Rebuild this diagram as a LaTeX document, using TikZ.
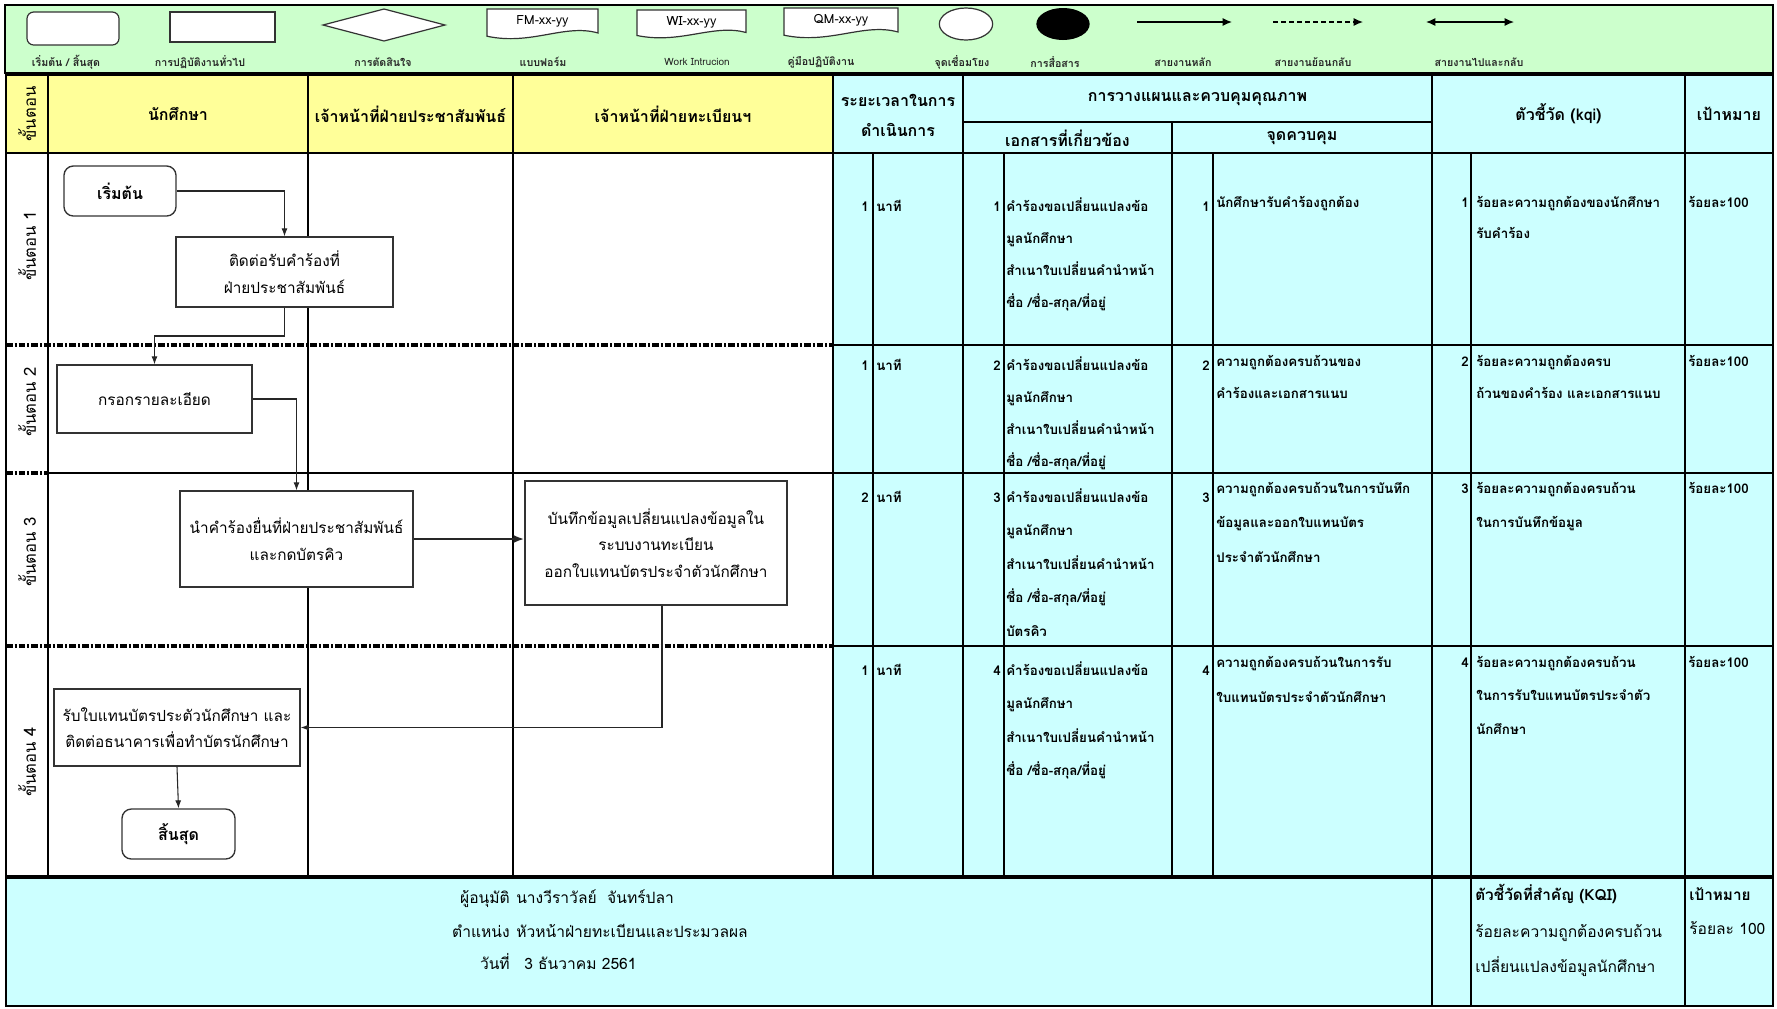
\documentclass[tikz,border=0pt]{standalone}
\usepackage{fontspec}
\setmainfont[Script=Thai]{Loma}
\usetikzlibrary{arrows.meta}
\definecolor{lg}{HTML}{CCFFCC}
\definecolor{ly}{HTML}{FFFF99}
\definecolor{lc}{HTML}{CCFFFF}
\newcommand\myfs[2]{\fontsize{#1}{#2}\selectfont}
\newcommand\celllines[4]{\foreach \t [count=\i from 0] in {#4} {\node[celltxt] at (#1,{#2+\i*#3}) {\t};}}
\tikzset{
 celltxt/.style={anchor=base west, inner sep=0pt, font=\myfs{10}{12}\bfseries},
 cellnum/.style={anchor=base east, inner sep=0pt, font=\myfs{10}{12}\bfseries},
 hdr/.style={font=\myfs{12}{14}\bfseries, inner sep=0pt},
 steptxt/.style={font=\myfs{12.5}{14}, inner sep=0pt, rotate=90},
 legtxt/.style={font=\myfs{8}{9}\bfseries, inner sep=0pt, text=black!85},
 foot/.style={font=\myfs{11.7}{13}, inner sep=0pt},
 box/.style 2 args={draw=black!80, line width=1pt, fill=white, minimum width=#1*0.75pt, minimum height=#2*0.75pt, inner sep=0pt, align=center, font=\myfs{11.5}{20}},
 term/.style 2 args={box={#1}{#2}, rounded corners=7pt, font=\myfs{12}{14}\bfseries},
 flow/.style={draw=black!85, line width=0.8pt, -{Latex[length=6pt,width=4.5pt]}},
 lane/.style={line width=1.5pt},
 grid/.style={line width=1.1pt},
 dd/.style={line width=2.3pt, dash pattern=on 5pt off 1.5pt on 1.5pt off 1.5pt},
 legshape/.style={draw=black!80, line width=0.9pt, fill=white},
}
\newcommand\docshape[5]{%
 \draw[legshape] (#1,#3) -- (#2,#3) -- (#2,{#3+0.75*(#4-#3)})
   .. controls ({#2-0.3*(#2-#1)},{#3+0.45*(#4-#3)}) and ({#1+0.4*(#2-#1)},{#3+1.15*(#4-#3)}) .. (#1,{#3+0.85*(#4-#3)}) -- cycle;
 \node[font=\myfs{9.5}{11}, inner sep=0pt] at ({(#1+#2)/2},{#3+12}) {#5};}
\begin{document}
\begin{tikzpicture}[x=0.75pt,y=-0.75pt]
\useasboundingbox (0,0) rectangle (1777,1008);
\fill[white] (0,0) rectangle (1777,1008);
% ---------------- legend
\fill[lg] (5,5) rectangle (1773,73);
\draw[line width=1.6pt] (5,5) rectangle (1773,73);
\draw[legshape, rounded corners=5pt] (27,12) rectangle (119,45);
\draw[legshape] (170,12) rectangle (275,42);
\draw[legshape] (323,25) -- (384,9) -- (445,25) -- (384,41) -- cycle;
\docshape{487}{598}{9}{41}{FM-xx-yy}
\docshape{637}{746}{10}{40}{WI-xx-yy}
\docshape{784}{898}{8}{40}{QM-xx-yy}
\draw[legshape] (966,24) ellipse [x radius=20pt, y radius=12pt];
\fill[black] (1063,24) ellipse [x radius=20pt, y radius=12pt];
\draw[line width=0.9pt, -{Latex[length=7pt,width=6pt]}] (1137,22) -- (1232,22);
\draw[line width=0.9pt, dash pattern=on 3.5pt off 2.5pt, -{Latex[length=7pt,width=6pt]}] (1273,22) -- (1363,22);
\draw[line width=0.9pt, {Latex[length=7pt,width=6pt]}-{Latex[length=7pt,width=6pt]}] (1426,22) -- (1514,22);
\node[legtxt] at (66,62) {เริ่มต้น / สิ้นสุด};
\node[legtxt] at (200,62) {การปฏิบัติงานทั่วไป};
\node[legtxt] at (383,62) {การตัดสินใจ};
\node[legtxt] at (543,62) {แบบฟอร์ม};
\node[legtxt, font=\myfs{7.5}{9}] at (697,62) {Work Intrucion};
\node[legtxt] at (821,62) {คู่มือปฏิบัติงาน};
\node[legtxt] at (962,62) {จุดเชื่อมโยง};
\node[legtxt] at (1055,62) {การสื่อสาร};
\node[legtxt] at (1183,62) {สายงานหลัก};
\node[legtxt] at (1313,62) {สายงานย้อนกลับ};
\node[legtxt] at (1479,62) {สายงานไปและกลับ};
% ---------------- fills
\fill[ly] (6,75) rectangle (833,153);
\fill[lc] (833,75) rectangle (1773,877);
\fill[lc] (6,877) rectangle (1773,1006);
% ---------------- grid right
\foreach \x in {963,1432,1685} \draw[grid] (\x,75) -- (\x,877);
\draw[grid] (1172,122) -- (1172,877);
\foreach \x in {873,1004,1213,1471} \draw[grid] (\x,153) -- (\x,877);
\foreach \x in {1432,1471,1685} \draw[grid] (\x,877) -- (\x,1006);
\draw[grid] (963,122) -- (1432,122);
\draw[grid] (833,153) -- (1773,153);
\foreach \y in {345,473,646} \draw[grid] (833,\y) -- (1773,\y);
% ---------------- lanes
\draw[lane] (6,153) -- (833,153);
\draw[dd] (6,345) -- (833,345);
\draw[dd] (6,473) -- (48,473);
\draw[grid] (48,473) -- (833,473);
\draw[dd] (6,646) -- (833,646);
\foreach \x in {48,308,513,833} \draw[lane] (\x,75) -- (\x,877);
\draw[line width=2.4pt] (6,877) -- (1773,877);
\draw[line width=1.6pt] (6,75) rectangle (1773,1006);
% ---------------- headers
\node[steptxt] at (27,114) {ขั้นตอน};
\node[hdr] at (178,114) {นักศึกษา};
\node[hdr] at (410.5,114) {เจ้าหน้าที่ฝ่ายประชาสัมพันธ์};
\node[hdr] at (673,114) {เจ้าหน้าที่ฝ่ายทะเบียนฯ};
\node[hdr] at (898,100) {ระยะเวลาในการ};
\node[hdr] at (898,130) {ดำเนินการ};
\node[hdr] at (1197.5,99) {การวางแผนและควบคุมคุณภาพ};
\node[hdr] at (1067.5,138) {เอกสารที่เกี่ยวข้อง};
\node[hdr] at (1302,138) {จุดควบคุม};
\node[hdr] at (1558.5,114) {ตัวชี้วัด (kqi)};
\node[hdr] at (1729,114) {เป้าหมาย};
\node[steptxt] at (27,246) {ขั้นตอน 1};
\node[steptxt] at (27,402) {ขั้นตอน 2};
\node[steptxt] at (27,552) {ขั้นตอน 3};
\node[steptxt] at (27,762) {ขั้นตอน 4};
% ---------------- flowchart
\node[term={112}{50}] (start) at (120,191) {เริ่มต้น};
\node[box={217}{70}] (b1) at (284.5,272) {ติดต่อรับคำร้องที่\\ฝ่ายประชาสัมพันธ์};
\node[box={195}{68}] (b2) at (154.5,399) {กรอกรายละเอียด};
\node[box={233}{96}] (b3) at (296.5,539) {นำคำร้องยื่นที่ฝ่ายประชาสัมพันธ์\\และกดบัตรคิว};
\node[box={262}{124}] (b4) at (656,543) {บันทึกข้อมูลเปลี่ยนแปลงข้อมูลใน\\ระบบงานทะเบียน\\ออกใบแทนบัตรประจำตัวนักศึกษา};
\node[box={246}{77}] (b5) at (177,727.5) {รับใบแทนบัตรประตัวนักศึกษา และ\\ติดต่อธนาคารเพื่อทำบัตรนักศึกษา};
\node[term={113}{50}] (end) at (178.5,834) {สิ้นสุด};
\coordinate (m1) at (0,336);
\draw[flow] (start.east) -| (b1.north);
\draw[flow] (b1.south) -- (b1.south |- m1) -| (b2.north);
\draw[flow] (b2.east) -| (b3.north);
\draw[flow, line width=1.6pt, -{Latex[length=8pt,width=6pt]}] (b3.east) -- (b3.east -| b4.west);
\draw[flow] ([xshift=4.5pt]b4.south) |- (b5.east);
\draw[flow] (b5.south) -- (end.north);
% ---------------- table rows
% row 1
\node[cellnum] at (869,211) {1}; \node[celltxt] at (876,211) {นาที};
\node[cellnum] at (1001,211) {1};
\celllines{1006}{211}{32}{คำร้องขอเปลี่ยนแปลงข้อ,มูลนักศึกษา,สำเนาใบเปลี่ยนคำนำหน้า,ชื่อ /ชื่อ-สกุล/ที่อยู่}
\node[cellnum] at (1210,211) {1};
\celllines{1216}{207}{32}{นักศึกษารับคำร้องถูกต้อง}
\node[cellnum] at (1469,207) {1};
\celllines{1476}{207}{31}{ร้อยละความถูกต้องของนักศึกษา,รับคำร้อง}
\node[celltxt] at (1688,207) {ร้อยละ100};
% row 2
\node[cellnum] at (869,370) {1}; \node[celltxt] at (876,370) {นาที};
\node[cellnum] at (1001,370) {2};
\celllines{1006}{370}{32}{คำร้องขอเปลี่ยนแปลงข้อ,มูลนักศึกษา,สำเนาใบเปลี่ยนคำนำหน้า,ชื่อ /ชื่อ-สกุล/ที่อยู่}
\node[cellnum] at (1210,370) {2};
\celllines{1216}{366}{32}{ความถูกต้องครบถ้วนของ,คำร้องและเอกสารแนบ}
\node[cellnum] at (1469,366) {2};
\celllines{1476}{366}{32}{ร้อยละความถูกต้องครบ,ถ้วนของคำร้อง และเอกสารแนบ}
\node[celltxt] at (1688,366) {ร้อยละ100};
% row 3
\node[cellnum] at (869,502) {2}; \node[celltxt] at (876,502) {นาที};
\node[cellnum] at (1001,502) {3};
\celllines{1006}{502}{33.5}{คำร้องขอเปลี่ยนแปลงข้อ,มูลนักศึกษา,สำเนาใบเปลี่ยนคำนำหน้า,ชื่อ /ชื่อ-สกุล/ที่อยู่,บัตรคิว}
\node[cellnum] at (1210,502) {3};
\celllines{1216}{493}{34.5}{ความถูกต้องครบถ้วนในการบันทึก,ข้อมูลและออกใบแทนบัตร,ประจำตัวนักศึกษา}
\node[cellnum] at (1469,493) {3};
\celllines{1476}{493}{34.5}{ร้อยละความถูกต้องครบถ้วน,ในการบันทึกข้อมูล}
\node[celltxt] at (1688,493) {ร้อยละ100};
% row 4
\node[cellnum] at (869,675) {1}; \node[celltxt] at (876,675) {นาที};
\node[cellnum] at (1001,675) {4};
\celllines{1006}{675}{33.5}{คำร้องขอเปลี่ยนแปลงข้อ,มูลนักศึกษา,สำเนาใบเปลี่ยนคำนำหน้า,ชื่อ /ชื่อ-สกุล/ที่อยู่}
\node[cellnum] at (1210,675) {4};
\celllines{1216}{667}{35}{ความถูกต้องครบถ้วนในการรับ,ใบแทนบัตรประจำตัวนักศึกษา}
\node[cellnum] at (1469,667) {4};
\celllines{1476}{667}{33.5}{ร้อยละความถูกต้องครบถ้วน,ในการรับใบแทนบัตรประจำตัว,นักศึกษา}
\node[celltxt] at (1688,667) {ร้อยละ100};
% ---------------- footer
\node[foot, anchor=base east] at (510,903) {ผู้อนุมัติ};
\node[foot, anchor=base west] at (516,903) {นางวีราวัลย์\ \ จันทร์ปลา};
\node[foot, anchor=base east] at (510,937) {ตำแหน่ง};
\node[foot, anchor=base west] at (516,937) {หัวหน้าฝ่ายทะเบียนและประมวลผล};
\node[foot, anchor=base east] at (510,969) {วันที่};
\node[foot, anchor=base west] at (524,969) {3 ธันวาคม 2561};
\node[foot, anchor=base west, font=\myfs{11.5}{13}\bfseries] at (1475,900) {ตัวชี้วัดที่สำคัญ (KQI)};
\node[foot, anchor=base west] at (1475,937) {ร้อยละความถูกต้องครบถ้วน};
\node[foot, anchor=base west] at (1475,972) {เปลี่ยนแปลงข้อมูลนักศึกษา};
\node[foot, anchor=base west, font=\myfs{11.5}{13}\bfseries] at (1689,900) {เป้าหมาย};
\node[foot, anchor=base west] at (1689,934) {ร้อยละ 100};
\end{tikzpicture}
\end{document}
